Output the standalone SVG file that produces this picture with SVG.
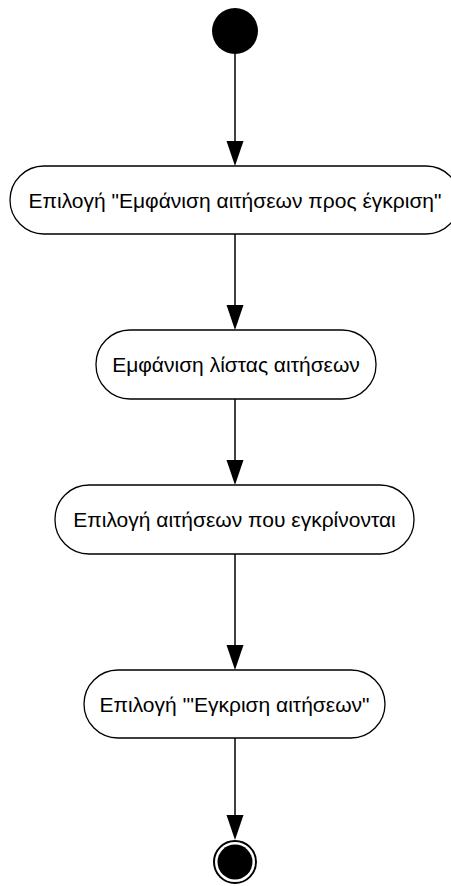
<svg xmlns="http://www.w3.org/2000/svg" width="451" height="886" viewBox="0 0 451 886">
<style>
.node{fill:#fff;stroke:#000;stroke-width:1.3}
.lbl{font-family:"Liberation Sans",Arial,sans-serif;font-size:21px;fill:#000;text-anchor:middle}
.edge{stroke:#000;stroke-width:1.5;fill:none}
.ah{fill:#000}
</style>
<g id="edges">
<path class="edge" d="M235,54 V142"/><path class="ah" d="M226.5,141 L243.5,141 L235,166 Z"/>
<path class="edge" d="M235,234 V306"/><path class="ah" d="M226.5,305 L243.5,305 L235,330 Z"/>
<path class="edge" d="M235,399 V461"/><path class="ah" d="M226.5,460 L243.5,460 L235,485 Z"/>
<path class="edge" d="M235,554 V646"/><path class="ah" d="M226.5,645 L243.5,645 L235,670 Z"/>
<path class="edge" d="M235,738 V816"/><path class="ah" d="M226.5,815 L243.5,815 L235,840 Z"/>
</g>
<g id="start"><circle cx="235" cy="31" r="23" fill="#000"/></g>
<g id="n1"><rect class="node" x="10" y="166" width="450" height="68" rx="34"/><text class="lbl" x="235" y="207.5">Επιλογή "Εμφάνιση αιτήσεων προς έγκριση"</text></g>
<g id="n2"><rect class="node" x="96" y="330" width="280" height="69" rx="34"/><text class="lbl" x="236" y="372">Εμφάνιση λίστας αιτήσεων</text></g>
<g id="n3"><rect class="node" x="55" y="485" width="359" height="69" rx="34"/><text class="lbl" x="234.5" y="527">Επιλογή αιτήσεων που εγκρίνονται</text></g>
<g id="n4"><rect class="node" x="84" y="670" width="301" height="68" rx="34"/><text class="lbl" x="234.5" y="711.5">Επιλογή '"Εγκριση αιτήσεων"</text></g>
<g id="end"><circle cx="235" cy="862" r="21" fill="#fff" stroke="#000" stroke-width="2"/><circle cx="235" cy="862" r="17.5" fill="#000"/></g>
</svg>
